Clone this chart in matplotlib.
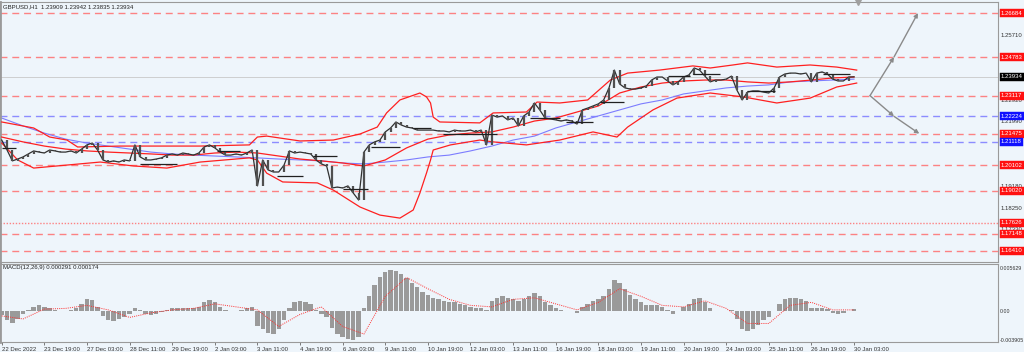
import matplotlib
matplotlib.use('Agg')
import matplotlib.pyplot as plt
from matplotlib.transforms import blended_transform_factory as blend

# ---------------- data ----------------
# closes sampled every 4 H1 bars (bar index = 4*k)
closes = [1.2120, 1.2077, 1.2030, 1.2038, 1.2047, 1.2060, 1.2073, 1.2068, 1.2064, 1.2077,
          1.2073, 1.2068, 1.2068, 1.2073, 1.2064, 1.2081, 1.2099, 1.2107, 1.2077, 1.2034,
          1.2025, 1.2030, 1.2025, 1.2034, 1.2030, 1.2099, 1.2047, 1.2034, 1.2034, 1.2038,
          1.2043, 1.2055, 1.2060, 1.2055, 1.2064, 1.2060, 1.2055, 1.2064, 1.2090, 1.2099,
          1.2086, 1.2068, 1.2055, 1.2055, 1.2060, 1.2055, 1.2064, 1.2077, 1.1922, 1.2034,
          1.1991, 1.1982, 1.1982, 1.2012, 1.2073, 1.2064, 1.2068, 1.2064, 1.2060, 1.2034,
          1.2017, 1.2008, 1.1913, 1.1917, 1.1913, 1.1922, 1.1891, 1.1861, 1.2068, 1.2099,
          1.2112, 1.2120, 1.2155, 1.2172, 1.2198, 1.2185, 1.2176, 1.2172, 1.2163, 1.2163,
          1.2163, 1.2163, 1.2159, 1.2159, 1.2155, 1.2163, 1.2159, 1.2159, 1.2163, 1.2155,
          1.2163, 1.2099, 1.2228, 1.2219, 1.2224, 1.2207, 1.2215, 1.2181, 1.2224, 1.2241,
          1.2280, 1.2250, 1.2215, 1.2211, 1.2207, 1.2202, 1.2207, 1.2202, 1.2189, 1.2250,
          1.2258, 1.2267, 1.2276, 1.2293, 1.2345, 1.2422, 1.2362, 1.2345, 1.2340, 1.2340,
          1.2345, 1.2353, 1.2379, 1.2392, 1.2392, 1.2375, 1.2358, 1.2371, 1.2392, 1.2401,
          1.2431, 1.2422, 1.2396, 1.2371, 1.2379, 1.2379, 1.2383, 1.2396, 1.2336, 1.2293,
          1.2327, 1.2332, 1.2332, 1.2327, 1.2323, 1.2345, 1.2392, 1.2405, 1.2409, 1.2409,
          1.2405, 1.2409, 1.2371, 1.2409, 1.2414, 1.2405, 1.2383, 1.2375, 1.2375, 1.2392, 1.2393]

# Bollinger upper band (bar index, price)
upper_bars = [0, 24, 36, 49, 57, 89, 149, 186, 192, 199, 224, 249, 269, 282, 289, 299, 314,
              319, 322, 324, 329, 359, 369, 394, 402, 419, 440, 457, 470, 494, 519, 532, 549,
              560, 582, 607, 627, 642]
bb_upper = [1.2198, 1.2172, 1.2133, 1.2120, 1.2090, 1.2094, 1.2094, 1.2099, 1.2133, 1.2137,
            1.2116, 1.2120, 1.2146, 1.2176, 1.2237, 1.2293, 1.2323, 1.2306, 1.2280, 1.2219,
            1.2198, 1.2194, 1.2237, 1.2241, 1.2284, 1.2280, 1.2293, 1.2379, 1.2409, 1.2422,
            1.2440, 1.2431, 1.2444, 1.2453, 1.2435, 1.2444, 1.2435, 1.2422]
# Bollinger lower band (bar index, price)
lower_bars = [0, 12, 24, 49, 74, 99, 124, 149, 186, 192, 199, 211, 237, 249, 269, 284, 299,
              309, 314, 319, 322, 324, 337, 359, 369, 394, 419, 444, 462, 470, 489, 507, 532,
              557, 582, 607, 627, 642]
bb_lower = [1.2107, 1.2034, 1.1999, 1.2012, 1.2025, 1.2008, 1.1999, 1.2025, 1.2043, 1.2034,
            1.1977, 1.1939, 1.1935, 1.1904, 1.1831, 1.1796, 1.1783, 1.1818, 1.1891, 1.1978,
            1.2034, 1.2077, 1.2099, 1.2120, 1.2112, 1.2099, 1.2120, 1.2155, 1.2133, 1.2176,
            1.2250, 1.2301, 1.2323, 1.2306, 1.2280, 1.2301, 1.2349, 1.2366]
# middle band and slow moving average, every 16 bars
bb_mid = [1.2133, 1.2112, 1.2094, 1.2081, 1.2073, 1.2068, 1.2064, 1.2060, 1.2055, 1.2055,
          1.2064, 1.2068, 1.2064, 1.2051, 1.2038, 1.2030, 1.2021, 1.2008, 1.2034, 1.2086,
          1.2124, 1.2142, 1.2150, 1.2155, 1.2176, 1.2202, 1.2215, 1.2241, 1.2267, 1.2323,
          1.2349, 1.2366, 1.2375, 1.2379, 1.2379, 1.2371, 1.2366, 1.2371, 1.2379, 1.2388, 1.2392]
ma_slow = [1.2215, 1.2181, 1.2150, 1.2124, 1.2107, 1.2094, 1.2081, 1.2068, 1.2060, 1.2055,
           1.2051, 1.2047, 1.2043, 1.2038, 1.2034, 1.2030, 1.2021, 1.2017, 1.2025, 1.2034,
           1.2047, 1.2055, 1.2073, 1.2094, 1.2120, 1.2137, 1.2172, 1.2198, 1.2224, 1.2250,
           1.2276, 1.2293, 1.2319, 1.2332, 1.2345, 1.2353, 1.2358, 1.2371, 1.2375, 1.2379, 1.2383]

# horizontal reference levels
red_levels = [1.26684, 1.24783, 1.23117, 1.21475, 1.20102, 1.19020, 1.17148, 1.16410]
red_dotted_levels = [1.17626]
blue_levels = [1.22224, 1.21118]
current_price = 1.23934

# short black horizontal segments: (start bar, end bar, price)
seg_start = [0, 104, 162, 207, 234, 256, 277, 309, 331, 397, 424, 449, 500, 519, 560, 617]
seg_end = [11, 132, 179, 226, 252, 275, 299, 322, 372, 419, 444, 467, 517, 539, 581, 637]
seg_price = [1.2086, 1.2017, 1.2073, 1.1965, 1.2051, 1.1909, 1.2090, 1.2172, 1.2146, 1.2215,
             1.2198, 1.2284, 1.2396, 1.2405, 1.2332, 1.2405]

# MACD main (histogram) every 4 bars, signal every 16 bars
macd_hist = [-0.0005, -0.0012, -0.0015, -0.0010, -0.0004, 0.0002, 0.0006, 0.0008, 0.0006, 0.0004,
             0.0002, 0.0001, 0.0000, 0.0002, 0.0004, 0.0010, 0.0016, 0.0015, 0.0006, -0.0006,
             -0.0012, -0.0013, -0.0010, -0.0007, -0.0004, 0.0004, 0.0002, -0.0004, -0.0005, -0.0003,
             -0.0001, 0.0002, 0.0004, 0.0005, 0.0004, 0.0005, 0.0004, 0.0006, 0.0012, 0.0015,
             0.0013, 0.0006, 0.0002, 0.0000, 0.0001, 0.0002, 0.0004, 0.0006, -0.0020, -0.0024,
             -0.0028, -0.0030, -0.0024, -0.0012, 0.0004, 0.0012, 0.0014, 0.0012, 0.0010, 0.0002,
             -0.0004, -0.0008, -0.0022, -0.0030, -0.0034, -0.0036, -0.0038, -0.0034, 0.0005, 0.0020,
             0.0035, 0.0045, 0.0052, 0.0055, 0.0054, 0.0050, 0.0044, 0.0038, 0.0032, 0.0026,
             0.0022, 0.0018, 0.0016, 0.0014, 0.0012, 0.0012, 0.0010, 0.0008, 0.0006, 0.0005,
             0.0004, 0.0002, 0.0014, 0.0018, 0.0020, 0.0018, 0.0017, 0.0014, 0.0016, 0.0020,
             0.0024, 0.0020, 0.0012, 0.0008, 0.0004, 0.0002, 0.0001, 0.0000, -0.0002, 0.0006,
             0.0010, 0.0014, 0.0016, 0.0020, 0.0030, 0.0042, 0.0038, 0.0030, 0.0022, 0.0016,
             0.0012, 0.0008, 0.0008, 0.0008, 0.0006, 0.0002, -0.0004, 0.0000, 0.0006, 0.0010,
             0.0016, 0.0018, 0.0012, 0.0004, 0.0001, 0.0000, 0.0001, 0.0002, -0.0010, -0.0024,
             -0.0026, -0.0024, -0.0018, -0.0012, -0.0008, 0.0000, 0.0010, 0.0016, 0.0018, 0.0018,
             0.0016, 0.0014, 0.0004, 0.0004, 0.0004, 0.0003, -0.0002, -0.0004, -0.0002, 0.0001, 0.0003]
macd_signal = [-0.0006, -0.0010, 0.0003, 0.0004, 0.0008, 0.0002, -0.0008, -0.0002, 0.0002, 0.0004,
               0.0010, 0.0006, 0.0002, -0.0020, -0.0004, 0.0006, -0.0020, -0.0030, 0.0020, 0.0045,
               0.0030, 0.0016, 0.0008, 0.0006, 0.0016, 0.0018, 0.0010, 0.0002, 0.0012, 0.0030,
               0.0020, 0.0008, 0.0006, 0.0014, 0.0004, -0.0016, -0.0016, 0.0008, 0.0012, 0.0002, 0.0002]

time_labels = ['22 Dec 2022', '23 Dec 19:00', '27 Dec 03:00', '28 Dec 11:00', '29 Dec 19:00',
               '2 Jan 03:00', '3 Jan 11:00', '4 Jan 19:00', '6 Jan 03:00', '9 Jan 11:00',
               '10 Jan 19:00', '12 Jan 03:00', '13 Jan 11:00', '16 Jan 19:00', '18 Jan 03:00',
               '19 Jan 11:00', '20 Jan 19:00', '24 Jan 03:00', '25 Jan 11:00', '26 Jan 19:00',
               '30 Jan 03:00']
price_ticks = [1.25710, 1.22920, 1.21990, 1.19180, 1.18250, 1.17330]
macd_ticks = [0.005629, 0.0, -0.003905]
macd_tick_labels = ['0.005629', '0.00', '-0.003905']

# projection arrows: start (bar, price), mid/end targets
arrow_start = (652, 1.23117)
arrow_up = [(670, 1.24783), (688, 1.26684)]
arrow_down = [(670, 1.22224), (689, 1.21475)]
shift_marker_bar = 643

title_text = 'GBPUSD,H1  1.23909 1.23942 1.23835 1.23934'
macd_text = 'MACD(12,26,9) 0.000291 0.000174'

# ---------------- figure ----------------
W, H = 1024, 352
BG = '#EEF5FB'
plt.rcParams['font.family'] = ['Liberation Sans', 'DejaVu Sans']
fig = plt.figure(figsize=(W / 100, H / 100), dpi=100)
fig.patch.set_facecolor(BG)


def px_axes(x0, y0, x1, y1):
    return fig.add_axes([x0 / W, 1 - y1 / H, (x1 - x0) / W, (y1 - y0) / H])


ax = px_axes(0, 2, 998, 262)
mx = px_axes(0, 264, 998, 342)
for a in (ax, mx):
    a.set_facecolor(BG)
    a.set_xlim(-1.28, 748.1)
    for s in a.spines.values():
        s.set_color('#9a9a9a')
        s.set_linewidth(0.8)
    a.spines['left'].set_linewidth(2.0)

ax.set_ylim(1.15935, 1.27159)
mx.set_ylim(-0.004058, 0.006284)
ax.set_xticks([])
ax.set_yticks([])

# levels
for lv in red_levels:
    ax.axhline(lv, color='#FF6E6E', lw=1.0, ls=(0, (5, 3.5)), alpha=0.85, zorder=1)
for lv in red_dotted_levels:
    ax.axhline(lv, color='#FF6E6E', lw=1.0, ls=(0, (1, 1.2)), alpha=0.85, zorder=1)
for lv in blue_levels:
    ax.axhline(lv, color='#8C8CFF', lw=1.0, ls=(0, (5, 3.5)), zorder=1)
ax.axhline(current_price, color='#C8C8C8', lw=0.6, zorder=1)

# bands and MA
band_x = [16 * k for k in range(len(bb_mid))]
ax.plot(band_x, ma_slow, color='#7C7CFF', lw=0.8, zorder=2)
ax.plot(upper_bars, bb_upper, color='#FF2020', lw=0.9, zorder=3)
ax.plot(band_x, bb_mid, color='#FF2020', lw=0.9, zorder=3)
ax.plot(lower_bars, bb_lower, color='#FF2020', lw=0.9, zorder=3)

# price
cx = [4 * k for k in range(len(closes))]
ax.plot(cx, closes, color='#303030', lw=0.9, zorder=4)
ax.vlines(cx[1:], [min(a, b) for a, b in zip(closes[:-1], closes[1:])],
          [max(a, b) for a, b in zip(closes[:-1], closes[1:])], color='#505050', lw=1.6, zorder=4)

# black segments
ax.hlines(seg_price, seg_start, seg_end, color='#202020', lw=0.9, zorder=5)

# shift marker at top
ax.plot([shift_marker_bar], [1.27159], marker='v', ms=4, color='#A0A0A0', clip_on=False, zorder=6)

# arrows
def arrow(a, p0, p1):
    a.annotate('', xy=p1, xytext=p0,
               arrowprops=dict(arrowstyle='-|>', color='#8a8a8a', lw=1.0,
                               mutation_scale=6, shrinkA=0, shrinkB=0))


for path in (arrow_up, arrow_down):
    arrow(ax, arrow_start, path[0])
    arrow(ax, path[0], path[1])

# right labels
tr = blend(ax.transAxes, ax.transData)
xl = 1.0 + 3.0 / 998
for lv in price_ticks:
    ax.text(xl, lv, f'{lv:.5f}', transform=tr, fontsize=4.3, color='#333333',
            va='center', ha='left', clip_on=False)


def boxlabel(lv, fc):
    ax.text(xl, lv, f'{lv:.5f}', transform=tr, fontsize=4.3, color='white', va='center',
            ha='left', clip_on=False, zorder=10,
            bbox=dict(boxstyle='square,pad=0.25', fc=fc, ec=fc, lw=0.3))


for lv in red_levels + red_dotted_levels:
    boxlabel(lv, '#FF1010')
for lv in blue_levels:
    boxlabel(lv, '#1010FF')
boxlabel(current_price, '#000000')

ax.text(3 / 998, 1.27159 - 0.0021, title_text, fontsize=4.3, color='#222222',
        transform=blend(ax.transAxes, ax.transData), va='center', ha='left')

# MACD
mx.bar(cx, macd_hist, width=3.3, color='#9a9a9a', zorder=2)
mx.plot(band_x, macd_signal, color='#FF3030', lw=0.7, ls=(0, (1, 1.2)), zorder=3)
mx.set_yticks([])
mtr = blend(mx.transAxes, mx.transData)
for v, t in zip(macd_ticks, macd_tick_labels):
    mx.text(1.0 + 2.0 / 998, v, t, transform=mtr, fontsize=3.8, color='#333333', va='center',
            ha='left', clip_on=False)
mx.text(3 / 998, 0.0058, macd_text, fontsize=4.3, color='#222222', transform=mtr,
        va='center', ha='left')

mx.set_xticks([32 * i for i in range(len(time_labels))])
mx.set_xticklabels(time_labels, fontsize=4.3, color='#333333')
for lbl in mx.get_xticklabels():
    lbl.set_ha('left')
mx.tick_params(axis='x', direction='out', length=2, width=0.6, color='#666666', pad=1.5)

fig.savefig('out.png', dpi=100, facecolor=BG)
